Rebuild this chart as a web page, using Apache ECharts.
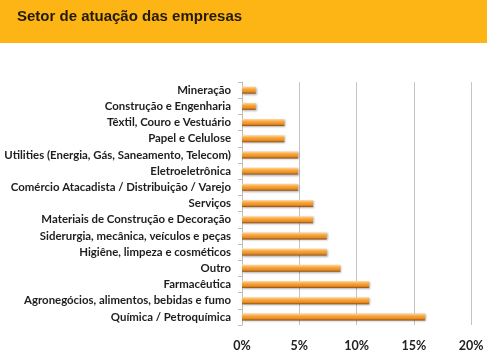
<!DOCTYPE html>
<html><head><meta charset="utf-8">
<script src="https://cdn.jsdelivr.net/npm/echarts@6/dist/echarts.min.js"></script>
<style>html,body{margin:0;padding:0;background:#fff}#c{width:487px;height:360px}</style>
</head><body><div id="c"></div>
<script>
const categories = ["Mineração","Construção e Engenharia","Têxtil, Couro e Vestuário","Papel e Celulose","Utilities (Energia, Gás, Saneamento, Telecom)","Eletroeletrônica","Comércio Atacadista / Distribuição / Varejo","Serviços","Materiais de Construção e Decoração","Siderurgia, mecânica, veículos e peças","Higiêne, limpeza e cosméticos","Outro","Farmacêutica","Agronegócios, alimentos, bebidas e fumo","Química / Petroquímica"];
const values = [1.2,1.2,3.7,3.7,4.9,4.9,4.9,6.2,6.2,7.4,7.4,8.6,11.1,11.1,16.0];
const xTicks = [0,5,10,15,20];

const chart = echarts.init(document.getElementById('c'));
chart.setOption({
  backgroundColor:'#fff',
  animation:false,
  graphic:[{type:'rect',left:0,top:0,shape:{width:487,height:43},style:{fill:'#FDB515'},z:-1}],
  title:{text:'Setor de atuação das empresas',left:12,top:4,textStyle:{fontFamily:'Liberation Sans',fontWeight:'bold',fontSize:15,color:'#231a0a'}},
  grid:{left:242,right:16,top:82,bottom:35,containLabel:false},
  xAxis:{type:'value',min:0,max:20,interval:5,
    axisLine:{show:false},axisTick:{show:false},
    splitLine:{show:true,lineStyle:{color:'#c4c4c4',width:1}},
    axisLabel:{formatter:v=>v+'%',fontFamily:'Lato',fontWeight:'bold',fontSize:12.5,color:'#222',margin:14}},
  yAxis:{type:'category',data:categories,inverse:true,
    axisLine:{show:true,lineStyle:{color:'#bdbdbd'}},
    axisTick:{show:true,length:4,lineStyle:{color:'#bdbdbd'}},
    axisLabel:{fontFamily:'Lato',fontWeight:'bold',fontSize:11.4,color:'#1e1e1e',margin:11}},
  series:[{type:'bar',data:values,barWidth:7,
    itemStyle:{color:new echarts.graphic.LinearGradient(0,0,0,1,[
      {offset:0,color:'#FFD9A6'},{offset:0.35,color:'#F7A940'},{offset:0.75,color:'#E98A1E'},{offset:1,color:'#8A4A10'}]),
      shadowColor:'rgba(0,0,0,0.3)',shadowBlur:2,shadowOffsetY:1,shadowOffsetX:1}}]
});
</script></body></html>
